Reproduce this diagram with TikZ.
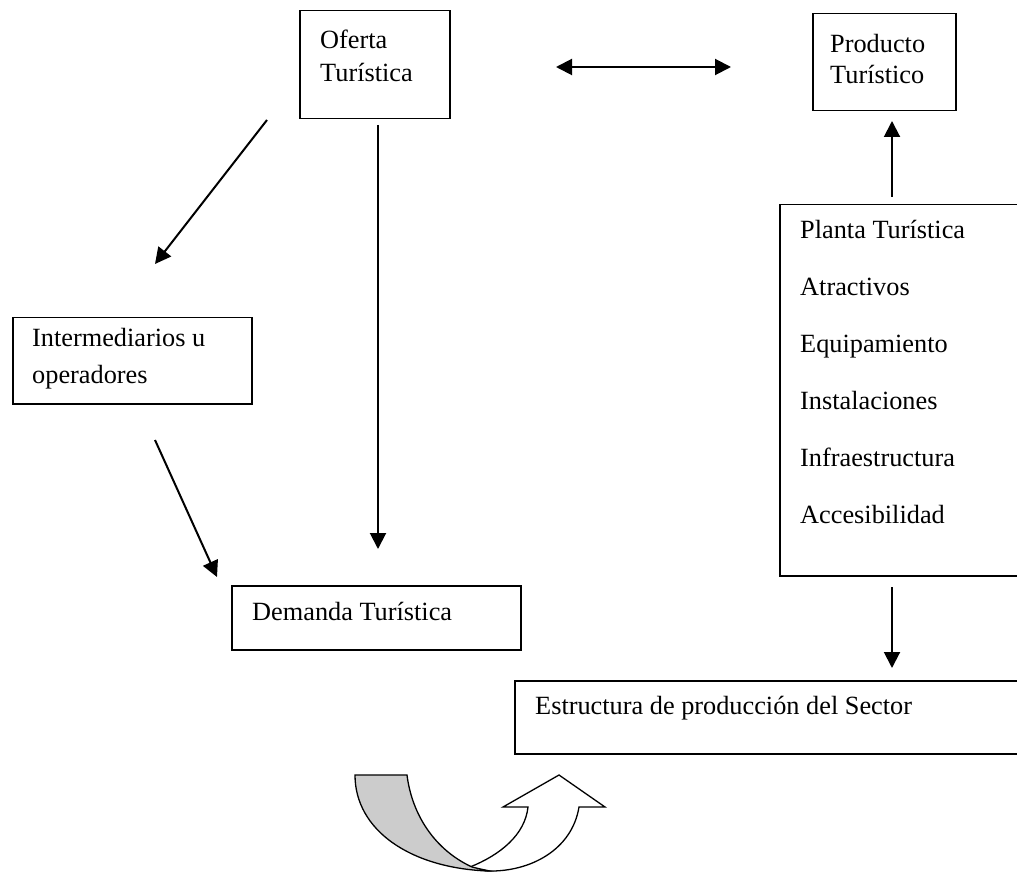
\documentclass[tikz,border=0pt]{standalone}
\usepackage{fontspec}
\setmainfont{Liberation Serif}
\usetikzlibrary{arrows.meta}
\begin{document}
\begin{tikzpicture}[x=1pt,y=-1pt,
  box/.style={draw,line width=1.5pt,inner sep=0pt,anchor=north west},
  txt/.style={anchor=base west,inner sep=0pt,font=\fontsize{26.3}{30}\selectfont},
  conn/.style={line width=2pt,-{Triangle[length=16pt,width=16pt]}},
  dconn/.style={line width=2pt,{Triangle[length=16pt,width=16pt]}-{Triangle[length=16pt,width=16pt]}}]
\useasboundingbox (0,0) rectangle (1017,874);
% boxes
\node[box,minimum width=150pt,minimum height=108pt] (oferta) at (299,10) {};
\node[box,minimum width=143pt,minimum height=97pt] (producto) at (812,13) {};
\node[box,minimum width=239pt,minimum height=86pt] (inter) at (12,317) {};
\node[box,minimum width=289pt,minimum height=64pt] (demanda) at (231,585) {};
\node[box,minimum width=245pt,minimum height=371pt] (planta) at (779,204) {};
\node[box,minimum width=510pt,minimum height=73pt] (estructura) at (514,680) {};
% texts
\node[txt] (t1) at (320,49) {Oferta};
\node[txt] (t2) at (320,82) {Turística};
\node[txt] (t3) at (830,53) {Producto};
\node[txt] (t4) at (830,84) {Turístico};
\node[txt] (t5) at (32,347) {Intermediarios u};
\node[txt] (t6) at (32,383) {operadores};
\node[txt] (t7) at (252,620) {Demanda Turística};
\node[txt] (p1) at (800,239) {Planta Turística};
\node[txt] (p2) at (800,296) {Atractivos};
\node[txt] (p3) at (800,353) {Equipamiento};
\node[txt] (p4) at (800,409) {Instalaciones};
\node[txt] (p5) at (800,466) {Infraestructura};
\node[txt] (p6) at (800,523) {Accesibilidad};
\node[txt] (t8) at (535,714) {Estructura de producción del Sector};
% connector ends
\coordinate (dA) at (556,67);
\coordinate (dB) at (731,67);
\coordinate (oS) at (378,125);
\coordinate (dT) at (378,549);
\coordinate (oL) at (267,120);
\coordinate (iT) at (155,264);
\coordinate (iS) at (155,440);
\coordinate (dL) at (217,577);
\coordinate (pS) at (892,197);
\coordinate (prT) at (892,121);
\coordinate (eS) at (892,587);
\coordinate (eT) at (892,668);
\draw[dconn] (dA) -- (dB);
\draw[conn] (oS) -- (dT);
\draw[conn] (oL) -- (iT);
\draw[conn] (iS) -- (dL);
\draw[conn] (pS) -- (prT);
\draw[conn] (eS) -- (eT);
% curved arrow
\draw[line width=1.3pt,fill=white,line join=miter]
  (470,867) .. controls (500,855) and (525,835) .. (528,807)
  -- (503,807) -- (559,775) -- (605,807) -- (579,807)
  .. controls (572,850) and (530,872) .. (488,871)
  .. controls (480,870) and (475,869) .. (470,867) -- cycle;
\draw[line width=1.3pt,fill=black!20,line join=miter]
  (355,775) -- (407,775)
  .. controls (412,815) and (435,850) .. (472,867)
  .. controls (488,871) and (492,871) .. (488,871)
  .. controls (410,868) and (355,830) .. (355,775) -- cycle;
\end{tikzpicture}
\end{document}
